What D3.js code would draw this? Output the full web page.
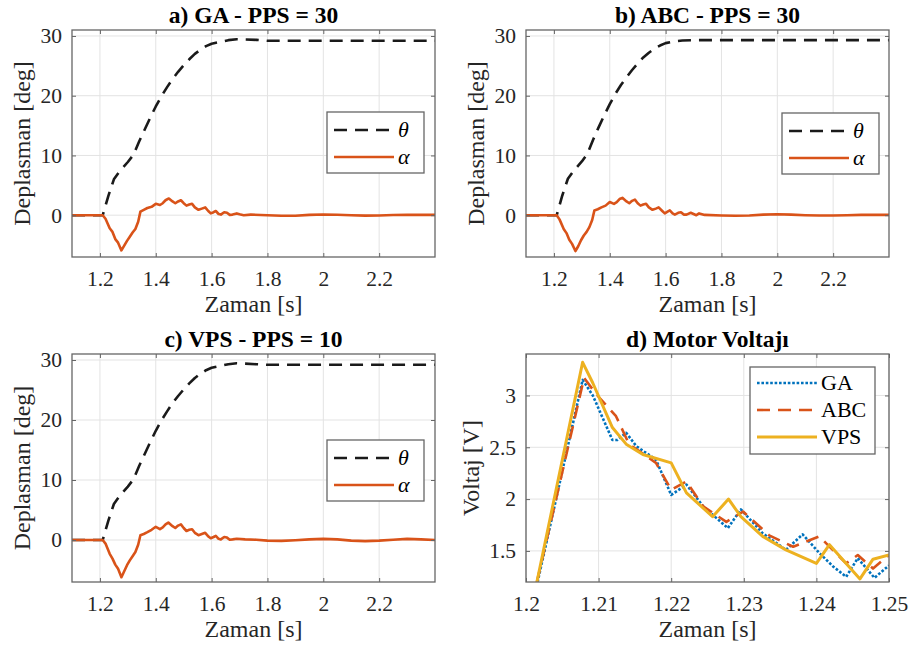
<!DOCTYPE html>
<html><head><meta charset="utf-8">
<script src="https://cdn.jsdelivr.net/npm/d3@7"></script>
<style>
html,body{margin:0;padding:0;background:#fff;}
svg{display:block;}
</style></head>
<body><svg id="c" width="911" height="649"></svg>
<script>
// ---------- data ----------
const titles = ["a) GA - PPS = 30", "b) ABC - PPS = 30", "c) VPS - PPS = 10", "d) Motor Voltajı"];
const xTicksDisp = [1.2, 1.4, 1.6, 1.8, 2, 2.2];
const xTickLabelsDisp = ["1.2", "1.4", "1.6", "1.8", "2", "2.2"];
const yTicksDisp = [0, 10, 20, 30];
const yTickLabelsDisp = ["0", "10", "20", "30"];
const xTicksVolt = [1.2, 1.21, 1.22, 1.23, 1.24, 1.25];
const xTickLabelsVolt = ["1.2", "1.21", "1.22", "1.23", "1.24", "1.25"];
const yTicksVolt = [1.5, 2, 2.5, 3];
const yTickLabelsVolt = ["1.5", "2", "2.5", "3"];
const dispSeries = ["\u03B8", "\u03B1"];
const voltSeries = ["GA", "ABC", "VPS"];

// [time s, theta deg]
const thetaA = [[1.10,0],[1.21,0],[1.23,3.2],[1.25,6.0],[1.27,7.3],[1.30,8.9],[1.32,10.1],[1.34,12.3],[1.36,14.3],[1.38,16.3],[1.40,18.2],[1.42,19.9],[1.44,21.4],[1.46,22.8],[1.48,24.0],[1.50,25.1],[1.52,26.1],[1.54,27.0],[1.56,27.7],[1.58,28.3],[1.60,28.7],[1.63,29.0],[1.66,29.3],[1.69,29.45],[1.72,29.4],[1.76,29.35],[1.80,29.2],[2.40,29.2]];
const thetaB = [[1.10,0],[1.21,0],[1.23,3.3],[1.25,6.1],[1.27,7.4],[1.30,9.0],[1.32,10.3],[1.34,12.6],[1.36,14.7],[1.38,16.7],[1.40,18.6],[1.42,20.3],[1.44,21.8],[1.46,23.1],[1.48,24.3],[1.50,25.4],[1.52,26.4],[1.54,27.2],[1.56,27.9],[1.58,28.4],[1.60,28.8],[1.63,29.1],[1.66,29.25],[1.70,29.3],[2.40,29.3]];
const thetaC = [[1.10,0],[1.21,0],[1.23,3.2],[1.25,6.0],[1.27,7.3],[1.30,8.9],[1.32,10.1],[1.34,12.3],[1.36,14.3],[1.38,16.3],[1.40,18.2],[1.42,19.9],[1.44,21.4],[1.46,22.8],[1.48,24.0],[1.50,25.1],[1.52,26.1],[1.54,27.0],[1.56,27.7],[1.58,28.3],[1.60,28.7],[1.63,29.0],[1.66,29.3],[1.69,29.45],[1.72,29.4],[1.76,29.3],[1.80,29.2],[2.40,29.2]];

// [time s, alpha deg]
const alphaA = [[1.10,0],[1.21,0],[1.22,-0.6],[1.235,-2.2],[1.245,-2.8],[1.255,-4.0],[1.265,-4.6],[1.277,-5.9],[1.287,-5.1],[1.297,-4.3],[1.307,-3.6],[1.317,-2.9],[1.327,-2.3],[1.337,-1.1],[1.345,0.6],[1.357,0.9],[1.37,1.2],[1.385,1.4],[1.40,1.9],[1.415,1.7],[1.425,2.0],[1.435,2.5],[1.447,2.8],[1.46,2.3],[1.47,2.0],[1.48,2.3],[1.49,2.5],[1.50,2.0],[1.51,1.6],[1.52,1.8],[1.53,1.9],[1.54,1.3],[1.553,0.9],[1.565,1.1],[1.577,1.3],[1.588,0.7],[1.597,0.3],[1.607,0.5],[1.615,0.7],[1.625,0.2],[1.633,0.1],[1.645,0.5],[1.655,0.4],[1.665,0.05],[1.675,0.1],[1.69,0.3],[1.70,0.15],[1.715,0.0],[1.74,0.1],[1.80,0.0],[1.85,-0.1],[1.90,-0.1],[1.95,0.05],[2.00,0.12],[2.05,0.08],[2.10,0.0],[2.15,-0.08],[2.20,-0.05],[2.25,0.03],[2.30,0.08],[2.35,0.05],[2.40,0.05]];
const alphaB = [[1.10,0],[1.21,0],[1.22,-0.7],[1.235,-2.3],[1.245,-3.0],[1.255,-4.1],[1.265,-4.8],[1.277,-6.0],[1.287,-5.2],[1.297,-4.2],[1.307,-3.4],[1.317,-2.8],[1.327,-2.0],[1.337,-0.8],[1.345,0.8],[1.357,1.0],[1.37,1.3],[1.385,1.6],[1.40,2.2],[1.415,1.9],[1.425,2.2],[1.435,2.7],[1.445,2.9],[1.46,2.3],[1.47,2.0],[1.48,2.4],[1.49,2.6],[1.50,2.0],[1.51,1.6],[1.52,1.8],[1.53,1.9],[1.54,1.3],[1.553,0.9],[1.565,1.1],[1.575,1.3],[1.588,0.7],[1.597,0.3],[1.607,0.6],[1.615,0.8],[1.625,0.3],[1.633,0.1],[1.645,0.4],[1.655,0.5],[1.665,0.1],[1.675,0.1],[1.69,0.4],[1.70,0.2],[1.71,0.0],[1.72,0.3],[1.74,0.05],[1.80,-0.05],[1.85,-0.1],[1.90,-0.05],[1.95,0.1],[2.00,0.15],[2.05,0.1],[2.10,0.0],[2.15,-0.05],[2.20,-0.05],[2.25,0.0],[2.30,0.05],[2.35,0.05],[2.40,0.05]];
const alphaC = [[1.10,0],[1.21,0],[1.22,-0.6],[1.235,-2.3],[1.245,-3.1],[1.255,-4.1],[1.265,-4.8],[1.277,-6.2],[1.287,-5.2],[1.297,-4.2],[1.307,-3.4],[1.317,-2.7],[1.327,-2.0],[1.337,-0.8],[1.345,0.8],[1.357,1.0],[1.37,1.3],[1.385,1.7],[1.40,2.2],[1.415,1.8],[1.425,2.1],[1.435,2.6],[1.445,2.9],[1.46,2.3],[1.47,2.0],[1.48,2.4],[1.49,2.6],[1.50,2.0],[1.51,1.5],[1.52,1.7],[1.53,1.8],[1.54,1.2],[1.553,0.8],[1.565,1.0],[1.577,1.2],[1.588,0.6],[1.597,0.3],[1.607,0.5],[1.615,0.7],[1.625,0.2],[1.633,0.1],[1.645,0.5],[1.655,0.4],[1.665,0.05],[1.675,0.1],[1.69,0.2],[1.72,0.1],[1.76,0.05],[1.80,-0.1],[1.85,-0.15],[1.90,-0.05],[1.95,0.1],[2.00,0.18],[2.05,0.1],[2.10,-0.1],[2.15,-0.18],[2.20,-0.1],[2.25,0.05],[2.30,0.18],[2.35,0.1],[2.40,0.0]];

// [time s, voltage V]
const voltGA = [[1.2016,1.2],[1.2078,3.15],[1.2092,3.0],[1.2119,2.57],[1.2126,2.57],[1.2138,2.64],[1.2152,2.51],[1.2179,2.38],[1.2200,2.04],[1.2221,2.14],[1.2244,1.93],[1.2278,1.72],[1.2296,1.90],[1.2326,1.67],[1.2358,1.51],[1.2381,1.66],[1.2404,1.48],[1.2423,1.35],[1.2441,1.25],[1.2457,1.43],[1.2480,1.24],[1.2500,1.36]];
const voltABC = [[1.2015,1.2],[1.2080,3.17],[1.2097,3.01],[1.2124,2.80],[1.2142,2.53],[1.2179,2.35],[1.2200,2.09],[1.2221,2.17],[1.2244,1.93],[1.2276,1.78],[1.2299,1.88],[1.2335,1.65],[1.2368,1.54],[1.2404,1.64],[1.2441,1.38],[1.2457,1.46],[1.2478,1.33],[1.2500,1.46]];
const voltVPS = [[1.2015,1.2],[1.2078,3.32],[1.2092,3.12],[1.2119,2.69],[1.2138,2.53],[1.2161,2.43],[1.2200,2.35],[1.2221,2.06],[1.2257,1.83],[1.2279,2.0],[1.2296,1.83],[1.2326,1.64],[1.2358,1.51],[1.2400,1.38],[1.2418,1.56],[1.2460,1.23],[1.2478,1.42],[1.2500,1.46]];

// ---------- drawing ----------
const svg = d3.select("#c");
const FONT = "Liberation Serif";
const C_AX = "#666", C_TXT = "#262626", C_GRID = "#e3e3e3";

function panel(o) {
  const x = d3.scaleLinear().domain(o.xDom).range([o.x0, o.x1]);
  const y = d3.scaleLinear().domain(o.yDom).range([o.y1, o.y0]);
  const g = svg.append("g").attr("font-family", FONT);
  g.append("g").selectAll("line").data(o.xTicks).join("line")
    .attr("x1", d => x(d)).attr("x2", d => x(d)).attr("y1", o.y0).attr("y2", o.y1)
    .attr("stroke", C_GRID).attr("stroke-width", 1);
  g.append("g").selectAll("line").data(o.yTicks).join("line")
    .attr("y1", d => y(d)).attr("y2", d => y(d)).attr("x1", o.x0).attr("x2", o.x1)
    .attr("stroke", C_GRID).attr("stroke-width", 1);
  const cid = "clip" + o.id;
  svg.append("clipPath").attr("id", cid).append("rect")
    .attr("x", o.x0).attr("y", o.y0).attr("width", o.x1 - o.x0).attr("height", o.y1 - o.y0);
  const lines = g.append("g").attr("clip-path", `url(#${cid})`);
  const lg = d3.line().x(d => x(d[0])).y(d => y(d[1]));
  o.series.forEach(s => {
    lines.append("path").attr("d", lg(s.data)).attr("fill", "none")
      .attr("stroke", s.color).attr("stroke-width", s.width)
      .attr("stroke-dasharray", s.dash || null)
      .attr("stroke-linejoin", "round");
  });
  const ax = d3.axisBottom(x).tickValues(o.xTicks).tickFormat((d, i) => o.xLabels[i]).tickSizeInner(-4).tickSizeOuter(0).tickPadding(14);
  const axT = d3.axisTop(x).tickValues(o.xTicks).tickFormat("").tickSizeInner(-4).tickSizeOuter(0);
  const ay = d3.axisLeft(y).tickValues(o.yTicks).tickFormat((d, i) => o.yLabels[i]).tickSizeInner(-4).tickSizeOuter(0).tickPadding(10);
  const ayR = d3.axisRight(y).tickValues(o.yTicks).tickFormat("").tickSizeInner(-4).tickSizeOuter(0);
  const styleAx = sel => {
    sel.attr("font-family", FONT).attr("font-size", 21.5);
    sel.select(".domain").remove();
    sel.selectAll(".tick line").attr("stroke", C_AX).attr("stroke-width", 1);
    sel.selectAll(".tick text").attr("fill", C_TXT).attr("font-family", FONT).attr("font-size", 21.5);
  };
  g.append("g").attr("transform", `translate(0,${o.y1})`).call(ax).call(styleAx);
  g.append("g").attr("transform", `translate(0,${o.y0})`).call(axT).call(styleAx);
  g.append("g").attr("transform", `translate(${o.x0},0)`).call(ay).call(styleAx);
  g.append("g").attr("transform", `translate(${o.x1},0)`).call(ayR).call(styleAx);
  g.append("rect").attr("x", o.x0).attr("y", o.y0).attr("width", o.x1 - o.x0).attr("height", o.y1 - o.y0)
    .attr("fill", "none").attr("stroke", C_AX).attr("stroke-width", 1.3);
  g.append("text").attr("x", (o.x0 + o.x1) / 2).attr("y", o.y0 - 7).attr("text-anchor", "middle")
    .attr("font-family", FONT).attr("font-size", 23.5).attr("font-weight", "bold").attr("fill", "#000")
    .text(o.title);
  g.append("text").attr("x", (o.x0 + o.x1) / 2).attr("y", o.y1 + 55).attr("text-anchor", "middle")
    .attr("font-family", FONT).attr("font-size", 24).attr("fill", C_TXT).text("Zaman [s]");
  g.append("text").attr("transform", `translate(${o.ylx},${(o.y0 + o.y1) / 2}) rotate(-90)`).attr("text-anchor", "middle")
    .attr("font-family", FONT).attr("font-size", 24).attr("fill", C_TXT).text(o.yLabel);
  const L = o.legend;
  const lgG = g.append("g");
  lgG.append("rect").attr("x", L.x).attr("y", L.y).attr("width", L.w).attr("height", L.h)
    .attr("fill", "#fff").attr("stroke", C_AX).attr("stroke-width", 1.3);
  o.series.forEach((s, i) => {
    const yy = L.y + L.first + i * L.step;
    lgG.append("line").attr("x1", L.x + 7).attr("x2", L.x + 7 + L.len).attr("y1", yy).attr("y2", yy)
      .attr("stroke", s.color).attr("stroke-width", s.width).attr("stroke-dasharray", s.dash || null);
    lgG.append("text").attr("x", L.x + 11 + L.len).attr("y", yy + 7)
      .attr("font-family", FONT).attr("font-size", 22).attr("font-style", L.italic ? "italic" : "normal")
      .attr("fill", "#000").text(s.name);
  });
}

const dispCommon = {
  xDom: [1.1, 2.4], yDom: [-7, 31], xTicks: xTicksDisp, xLabels: xTickLabelsDisp,
  yTicks: yTicksDisp, yLabels: yTickLabelsDisp, yLabel: "Deplasman [deg]"
};
const thetaStyle = { color: "#1a1a1a", width: 2.6, dash: "13,8" };
const alphaStyle = { color: "#D95319", width: 2.6 };
const dispLegend = (lx, ly) => ({ x: lx, y: ly, w: 97, h: 61, first: 18, step: 27, len: 60, italic: true });

panel(Object.assign({}, dispCommon, {
  id: "a", x0: 72, x1: 435, y0: 30, y1: 257, ylx: 30, title: titles[0],
  series: [Object.assign({ name: dispSeries[0], data: thetaA }, thetaStyle), Object.assign({ name: dispSeries[1], data: alphaA }, alphaStyle)],
  legend: dispLegend(327, 112)
}));
panel(Object.assign({}, dispCommon, {
  id: "b", x0: 526, x1: 889, y0: 30, y1: 257, ylx: 484, title: titles[1],
  series: [Object.assign({ name: dispSeries[0], data: thetaB }, thetaStyle), Object.assign({ name: dispSeries[1], data: alphaB }, alphaStyle)],
  legend: dispLegend(782, 113)
}));
panel(Object.assign({}, dispCommon, {
  id: "c", x0: 72, x1: 435, y0: 354, y1: 582, ylx: 30, title: titles[2],
  series: [Object.assign({ name: dispSeries[0], data: thetaC }, thetaStyle), Object.assign({ name: dispSeries[1], data: alphaC }, alphaStyle)],
  legend: dispLegend(327, 440)
}));
panel({
  id: "d", x0: 526, x1: 889, y0: 354, y1: 582, ylx: 479, title: titles[3],
  xDom: [1.2, 1.25], yDom: [1.2, 3.4], xTicks: xTicksVolt, xLabels: xTickLabelsVolt,
  yTicks: yTicksVolt, yLabels: yTickLabelsVolt, yLabel: "Voltaj [V]",
  series: [
    { name: voltSeries[0], data: voltGA, color: "#0072BD", width: 2.6, dash: "2.6,1.8" },
    { name: voltSeries[1], data: voltABC, color: "#D95319", width: 2.6, dash: "13,8" },
    { name: voltSeries[2], data: voltVPS, color: "#EDB120", width: 3 }
  ],
  legend: { x: 750, y: 367, w: 125, h: 87, first: 16, step: 27, len: 60, italic: false }
});
</script>
</body></html>
